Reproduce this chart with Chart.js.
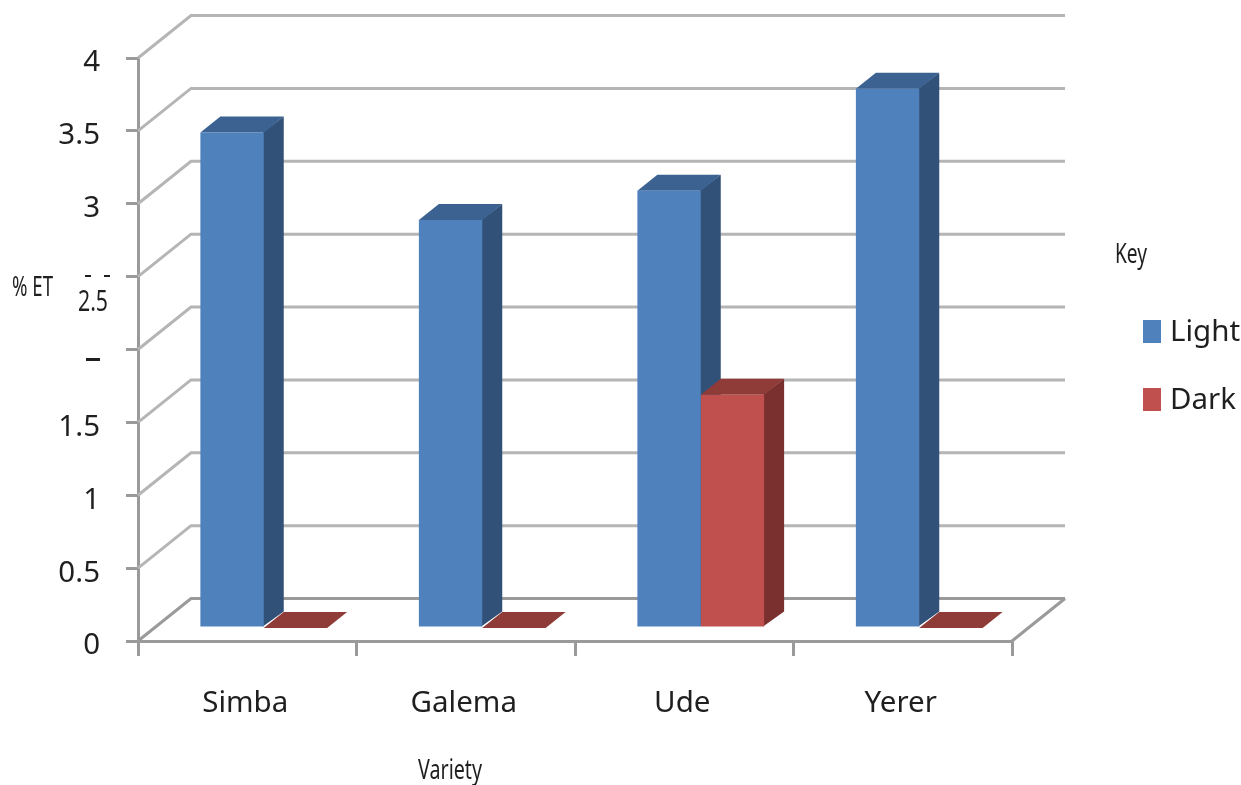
<!DOCTYPE html>
<html>
<head>
<meta charset="utf-8">
<title>% ET by variety</title>
<script src="https://cdn.jsdelivr.net/npm/chart.js@4/dist/chart.umd.min.js"></script>
<style>
    html, body { margin: 0; padding: 0; background: #fff; }
    canvas { display: block; }
</style>
</head>
<body>
<canvas id="etChart" width="1241" height="785"></canvas>
<script>
// Chart data
const varieties = ["Simba", "Galema", "Ude", "Yerer"];
const lightValues = [3.4, 2.8, 3.0, 3.7];
const darkValues = [0, 0, 1.6, 0];
const yTickValues = [0, 0.5, 1, 1.5, 2, 2.5, 3, 3.5, 4];
const yTickLabels = ["0", "0.5", "1", "1.5", "", "", "3", "3.5", "4"]; // 2 and 2.5 are handled by hand further down

const FONT = '"Noto Sans", sans-serif';
const TEXT_COLOR = '#1f1f1f';
const GRID_COLOR = '#b5b5b5';
const AXIS_COLOR = '#9a9a9a';

// Fake 3D settings
const WALL_DX = 53, WALL_DY = -42.5;   // front plane to back wall
const BAR_DX = 20, BAR_DY = -16;       // depth of each bar
const BAR_SHIFT_X = 16.5, BAR_SHIFT_Y = -13; // bars stand a bit behind the front plane

const blue = { front: '#4f81bd', side: '#325178', top: '#3b6291' };
const red = { front: '#c0504d', side: '#7a302e', top: '#8f3b38' };

function polygon(ctx, points, color) {
    ctx.fillStyle = color;
    ctx.beginPath();
    points.forEach((p, i) => i === 0 ? ctx.moveTo(p[0], p[1]) : ctx.lineTo(p[0], p[1]));
    ctx.closePath();
    ctx.fill();
}

// Text squeezed horizontally to a given width
function squeezedText(ctx, text, x, y, width, size) {
    ctx.save();
    ctx.font = `${size}px ${FONT}`;
    ctx.fillStyle = TEXT_COLOR;
    ctx.textAlign = 'left';
    ctx.textBaseline = 'alphabetic';
    const natural = ctx.measureText(text).width;
    ctx.translate(x, y);
    ctx.scale(width / natural, 1);
    ctx.fillText(text, 0, 0);
    ctx.restore();
}

const box3d = {
    id: 'box3d',
    beforeDatasetsDraw(chart) {
        const { ctx, chartArea, scales } = chart;
        const yScale = scales.y;

        // Side wall and back wall grid lines
        ctx.save();
        ctx.lineWidth = 3;
        yTickValues.forEach((value) => {
            const y = yScale.getPixelForValue(value);
            ctx.strokeStyle = value === 0 ? AXIS_COLOR : GRID_COLOR;
            ctx.beginPath();
            ctx.moveTo(chartArea.left, y);
            ctx.lineTo(chartArea.left + WALL_DX, y + WALL_DY);
            ctx.lineTo(chartArea.right + WALL_DX, y + WALL_DY);
            ctx.stroke();
        });
        // Right edge of the floor
        const floorY = yScale.getPixelForValue(0);
        ctx.strokeStyle = AXIS_COLOR;
        ctx.beginPath();
        ctx.moveTo(chartArea.right, floorY);
        ctx.lineTo(chartArea.right + WALL_DX, floorY + WALL_DY);
        ctx.stroke();
        ctx.restore();

        // Side and top faces, the front faces come from the bar elements.
        // Sides run 1px under the front and the next top face so no seam shows.
        ctx.save();
        ctx.translate(BAR_SHIFT_X, BAR_SHIFT_Y);
        [blue, red].forEach((colors, index) => {
            chart.getDatasetMeta(index).data.forEach((bar) => {
                const left = bar.x - bar.width / 2;
                const right = bar.x + bar.width / 2;
                if (bar.base - bar.y > 0) {
                    polygon(ctx, [[right - 1, bar.y], [right + BAR_DX, bar.y + BAR_DY],
                        [right + BAR_DX, bar.base + BAR_DY + 1], [right - 1, bar.base]], colors.side);
                }
                polygon(ctx, [[left, bar.y], [left + BAR_DX, bar.y + BAR_DY],
                    [right + BAR_DX, bar.y + BAR_DY], [right, bar.y]], colors.top);
            });
        });
        ctx.restore();

        ctx.save();
        ctx.translate(BAR_SHIFT_X, BAR_SHIFT_Y);
    },
    afterDatasetsDraw(chart) {
        const { ctx, scales } = chart;
        ctx.restore();

        // Y tick labels sit a little under their tick marks
        ctx.font = `29.5px ${FONT}`;
        ctx.fillStyle = TEXT_COLOR;
        ctx.textAlign = 'right';
        ctx.textBaseline = 'middle';
        yTickValues.forEach((value, i) => {
            ctx.fillText(yTickLabels[i], 100, scales.y.getPixelForValue(value) + 5);
        });

        // Axis titles and the narrow 2.5 label
        squeezedText(ctx, '% ET', 12, 296, 41, 28);
        squeezedText(ctx, '2.5', 78, 311, 30, 29);
        squeezedText(ctx, 'Key', 1115, 263, 32, 28);
        squeezedText(ctx, 'Variety', 418, 779, 64, 28);

        // Leftovers of the erased tick labels
        ctx.fillStyle = TEXT_COLOR;
        ctx.fillRect(85, 275, 6, 2);
        ctx.fillRect(104, 275, 6, 2);
        ctx.fillRect(86, 358, 14, 3);

        // Key
        ctx.font = `29.5px ${FONT}`;
        ctx.textAlign = 'left';
        chart.data.datasets.forEach((dataset, i) => {
            const y = 320 + i * 68;
            ctx.fillStyle = dataset.backgroundColor;
            ctx.fillRect(1143, y, 18, 23);
            ctx.fillStyle = TEXT_COLOR;
            ctx.fillText(dataset.label, 1170, y + 13);
        });
    }
};

const etChart = new Chart(document.getElementById('etChart').getContext('2d'), {
    type: 'bar',
    plugins: [box3d],
    data: {
        labels: varieties,
        datasets: [
            { label: 'Light', data: lightValues, backgroundColor: blue.front, clip: false },
            { label: 'Dark', data: darkValues, backgroundColor: red.front, clip: false }
        ]
    },
    options: {
        responsive: false,
        animation: false,
        layout: { padding: { top: 58, right: 229, bottom: 0, left: 0 } },
        categoryPercentage: 0.58,
        barPercentage: 1,
        plugins: {
            legend: { display: false },
            tooltip: { enabled: false }
        },
        scales: {
            x: {
                afterFit(scale) { scale.height = 144; },
                grid: {
                    drawOnChartArea: false,
                    color: AXIS_COLOR,
                    lineWidth: 3,
                    tickLength: 15
                },
                border: { color: AXIS_COLOR, width: 3 },
                ticks: {
                    color: TEXT_COLOR,
                    font: { family: FONT, size: 29.5 },
                    padding: 30,
                    labelOffset: -2,
                    maxRotation: 0
                }
            },
            y: {
                min: 0,
                max: 4,
                afterFit(scale) { scale.width = 138; },
                afterBuildTicks(scale) { scale.ticks = yTickValues.map((value) => ({ value })); },
                grid: {
                    drawOnChartArea: false,
                    color: AXIS_COLOR,
                    lineWidth: 3,
                    tickLength: 12
                },
                border: { color: AXIS_COLOR, width: 3 },
                ticks: { display: false }
            }
        }
    }
});
</script>
</body>
</html>
